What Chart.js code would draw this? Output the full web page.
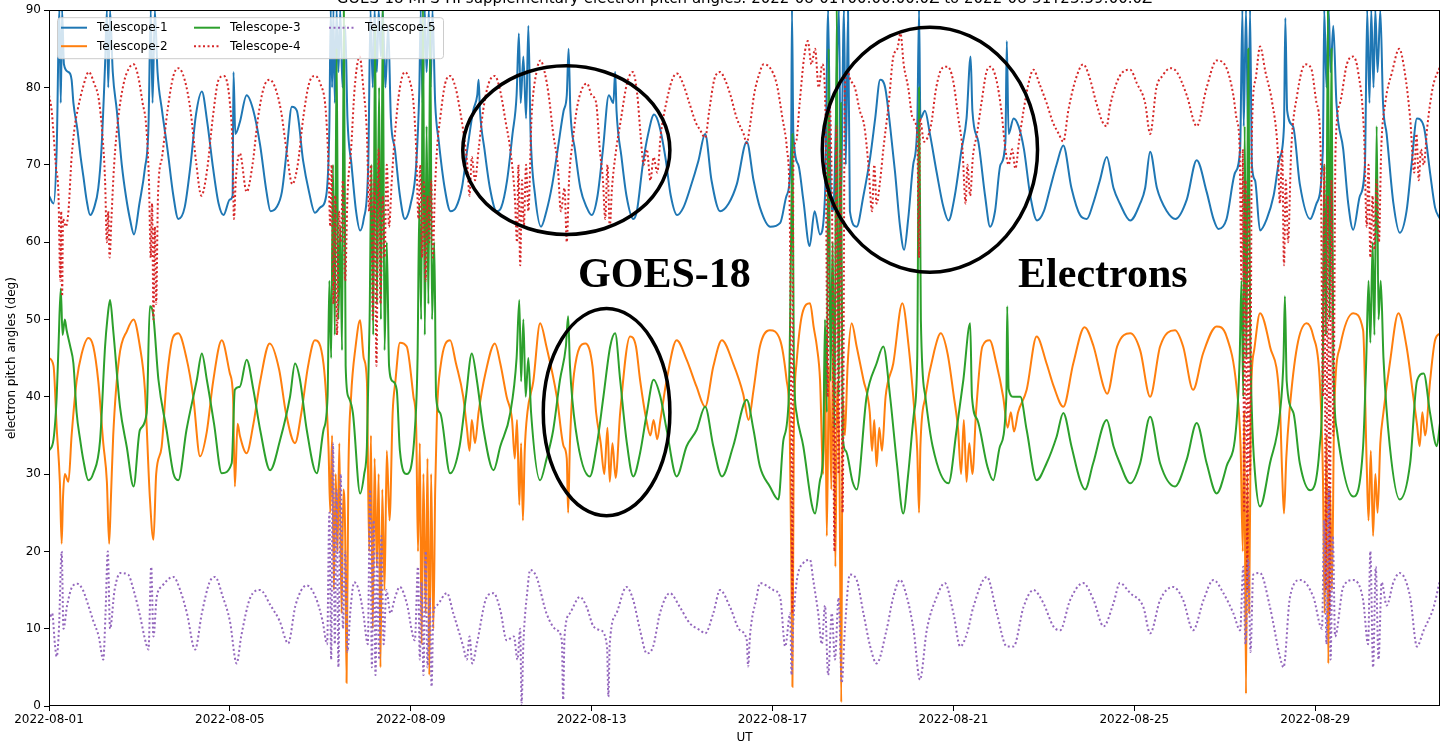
<!DOCTYPE html>
<html>
<head>
<meta charset="utf-8">
<title>GOES-18 MPS-HI supplementary electron pitch angles</title>
<script src="https://cdn.jsdelivr.net/npm/chart.js@4.4.1/dist/chart.umd.min.js"></script>
<style>
  html, body { margin: 0; padding: 0; background: #fff; }
  #wrap { position: relative; width: 1441px; height: 745px; overflow: hidden; }
</style>
</head>
<body>
<div id="wrap"><canvas id="chart" width="1441" height="745"></canvas></div>
<script>
// [days since 2022-08-01 00:00 UT, pitch angle (deg)]
const telescope1 = [
  [0.00,66],[0.10,65],[0.17,72],[0.23,90],[0.26,78],[0.29,90],[0.33,83],[0.43,82],[0.50,81],[0.54,78],[0.63,74.5],[0.70,71],[0.76,68.5],[0.83,65.5],[0.91,63.5],
  [1.00,64.5],[1.09,67],[1.16,72],[1.24,83],[1.28,90],[1.31,80],[1.35,90],[1.41,82],[1.50,77],[1.61,70],[1.70,66],[1.79,63],[1.88,61],
  [2.00,65],[2.12,69.5],[2.20,75],[2.25,90],[2.29,78],[2.34,90],[2.40,82],[2.50,77],[2.62,72],[2.75,66],[2.86,63],
  [3.00,64.5],[3.13,70],[3.25,76.5],[3.38,79.5],[3.50,75.5],[3.63,69.5],[3.75,65],[3.86,63.5],
  [4.00,65.5],[4.06,66],[4.08,82],[4.12,74],[4.22,75.5],[4.37,79],[4.52,77],[4.67,72.5],[4.81,66.5],[4.90,64],
  [5.03,64.5],[5.15,66.5],[5.26,72],[5.37,77.5],[5.48,77],[5.62,70.5],[5.75,66.5],[5.88,63.8],
  [6.00,64.5],[6.13,66],[6.20,75],[6.23,90],[6.26,80],[6.29,90],[6.32,78],[6.36,90],[6.40,82],[6.44,90],[6.49,80],[6.55,88],[6.60,76],[6.69,70],[6.79,64],[6.88,61.5],[6.96,63],
  [7.06,70],[7.11,90],[7.16,80],[7.20,90],[7.25,82],[7.29,90],[7.34,84],[7.38,90],[7.44,80],[7.50,88],[7.56,76],[7.65,72],[7.76,66],[7.87,63],
  [8.00,65],[8.12,70],[8.19,80],[8.22,90],[8.26,78],[8.31,90],[8.35,82],[8.40,90],[8.44,80],[8.48,90],[8.54,78],[8.62,73],[8.75,67],[8.88,64],
  [9.00,64.5],[9.13,67],[9.25,72],[9.38,77],[9.47,79],[9.50,81],[9.53,77],[9.63,72],[9.75,67],[9.90,64],
  [10.00,64.5],[10.13,68],[10.25,74],[10.34,79],[10.39,87],[10.43,78],[10.49,84],[10.55,76],[10.60,88],[10.65,74],[10.75,66],[10.88,62],
  [11.00,64],[11.13,67.5],[11.25,72],[11.38,77],[11.45,79],[11.49,85],[11.53,77],[11.63,72],[11.75,67],[11.89,64.5],
  [12.00,63.5],[12.13,66],[12.25,72],[12.38,79],[12.48,78],[12.52,82],[12.55,77],[12.66,71],[12.77,66],[12.92,63],
  [13.00,64],[13.13,70],[13.25,74],[13.38,76.5],[13.50,75],[13.63,71],[13.75,66],[13.89,63.5],
  [14.03,64.5],[14.18,67],[14.36,70.5],[14.51,74],[14.65,68],[14.84,64],
  [15.03,65],[15.21,67.5],[15.43,73],[15.58,68],[15.72,64.5],[15.95,62],
  [16.17,62.5],[16.31,66],[16.41,72],[16.43,90],[16.46,74],[16.57,70],[16.68,65.5],[16.82,59.5],[16.93,64],
  [17.05,61],[17.16,66],[17.23,90],[17.28,68],[17.34,64],[17.47,90],[17.51,66],[17.58,90],[17.62,70],[17.67,90],[17.71,64],[17.86,62],
  [18.01,66],[18.16,71],[18.27,76],[18.38,81],[18.49,80],[18.60,75],[18.71,69],[18.82,62],[18.91,59],
  [19.00,63],[19.11,70],[19.20,75],[19.24,90],[19.27,76],[19.37,77],[19.48,74],[19.63,69],[19.78,64.5],[19.89,62.8],
  [20.03,66],[20.18,72],[20.29,76],[20.38,84],[20.42,77],[20.55,73],[20.70,66],[20.81,62],[20.92,64],
  [21.04,70],[21.15,73],[21.18,86],[21.22,74],[21.33,76],[21.44,75],[21.56,72],[21.70,66],[21.85,62.8],
  [22.00,64],[22.14,67],[22.28,70],[22.43,72.5],[22.61,67],[22.80,63.5],[22.95,63],
  [23.09,65],[23.24,68],[23.39,71],[23.54,67],[23.68,65],[23.91,62.8],
  [24.13,65],[24.24,67],[24.35,71.7],[24.50,67],[24.72,64],[24.91,63],
  [25.16,65.5],[25.38,70.6],[25.60,66.5],[25.75,63],[25.86,61.7],
  [26.04,63],[26.23,69],[26.34,72],[26.39,90],[26.42,75],[26.47,90],[26.52,73],[26.56,90],[26.60,70],[26.67,68],[26.78,61.5],[26.93,63],
  [27.08,66],[27.22,71],[27.31,75],[27.34,89],[27.38,77],[27.51,75],[27.66,67.5],[27.89,63],
  [28.03,65],[28.17,72],[28.20,90],[28.25,80],[28.30,90],[28.34,82],[28.40,88],[28.47,78],[28.62,72],[28.73,65],[28.84,61.6],[28.99,66],
  [29.10,70],[29.15,90],[29.20,78],[29.24,90],[29.29,80],[29.33,90],[29.38,82],[29.44,90],[29.50,78],[29.58,74],[29.73,65],[29.87,61.2],
  [30.02,64],[30.13,70],[30.25,76],[30.40,75],[30.54,69],[30.65,64.5],[30.76,63]
];

const telescope2 = [
  [0.00,45],[0.10,44],[0.17,36],[0.24,29],[0.28,21],[0.31,27],[0.35,30],[0.43,29],[0.50,35],[0.61,42],[0.72,45.5],[0.87,47.6],[0.98,46.5],
  [1.09,42],[1.20,34],[1.28,29],[1.33,21],[1.37,27],[1.42,35],[1.55,45],[1.73,48.6],[1.87,50],
  [2.01,46.5],[2.12,41],[2.23,27],[2.31,21.5],[2.37,30],[2.49,33.5],[2.60,42],[2.75,47.8],[2.86,48.2],
  [3.04,45],[3.19,40],[3.34,32.3],[3.49,35.5],[3.63,42],[3.82,47.3],
  [4.00,43],[4.07,40],[4.11,28.4],[4.17,36.5],[4.22,35],[4.37,32.7],[4.52,36.5],[4.67,42],[4.88,46.9],
  [5.09,43.5],[5.24,37.9],[5.44,34],[5.58,37.9],[5.73,44],[5.88,47.3],
  [6.07,44.3],[6.18,33.6],[6.22,25],[6.26,35],[6.30,15],[6.34,30],[6.38,20],[6.42,34],[6.47,12],[6.51,28],[6.55,22],[6.58,3],[6.62,30],[6.68,40],[6.78,46.5],[6.88,49.9],[6.96,45],
  [7.03,42],[7.08,20],[7.12,35],[7.16,10],[7.20,32],[7.25,18],[7.29,30],[7.33,5],[7.37,28],[7.42,15],[7.47,33],[7.53,24],[7.60,38],[7.66,42],[7.76,47],[7.91,46.5],
  [8.06,40],[8.12,36],[8.16,20],[8.20,34],[8.24,8],[8.28,30],[8.33,12],[8.37,32],[8.41,4],[8.45,30],[8.50,10],[8.54,28],[8.58,38],[8.66,44],[8.87,47.3],
  [9.00,44.3],[9.16,40],[9.24,36],[9.30,33],[9.35,37],[9.42,34],[9.50,38],[9.65,43],[9.86,46.9],[9.98,44.3],
  [10.12,40],[10.24,37],[10.30,32],[10.35,37],[10.40,26],[10.44,34],[10.48,24],[10.52,33],[10.58,38],[10.71,42],[10.86,49.5],
  [11.00,46.5],[11.23,40],[11.38,33.6],[11.45,32],[11.48,25],[11.52,34],[11.61,43],[11.86,46.9],
  [12.02,43.9],[12.10,37.9],[12.20,34],[12.28,30],[12.35,36],[12.40,29],[12.46,34],[12.53,29.5],[12.63,37.9],[12.85,47.8],[12.98,46.5],
  [13.07,42.2],[13.21,37],[13.30,35],[13.37,37],[13.45,34.5],[13.52,37],[13.66,42.2],[13.88,47.3],
  [14.10,44.8],[14.32,41.3],[14.51,38.7],[14.69,43.9],[14.88,47.3],
  [15.13,44.3],[15.35,40.4],[15.47,37],[15.58,40.9],[15.72,46.5],[15.94,48.6],
  [16.17,47.3],[16.31,42.2],[16.38,36],[16.42,15],[16.44,2.5],[16.47,35],[16.53,44.3],[16.66,50.8],[16.83,52.1],[16.91,49],[16.98,46.5],
  [17.05,42.2],[17.12,30],[17.16,45],[17.20,22],[17.25,44],[17.30,28],[17.34,47],[17.39,18],[17.43,42],[17.48,30],[17.52,0.5],[17.55,40],[17.60,35],[17.66,44],[17.75,49.5],[17.86,46.5],
  [18.01,42.2],[18.15,38],[18.20,33],[18.25,37],[18.30,31],[18.36,36],[18.42,33],[18.50,40],[18.67,44.3],[18.87,52.1],
  [19.01,46.5],[19.14,37.9],[19.20,33],[19.24,25],[19.27,33.6],[19.38,40],[19.58,46],[19.72,48.2],[19.87,45.6],
  [20.01,40],[20.10,36],[20.17,30],[20.23,37],[20.29,29],[20.35,34],[20.42,30],[20.50,38],[20.64,46.5],[20.80,47.3],[20.95,44.3],
  [21.10,40],[21.20,36],[21.27,38],[21.34,35.5],[21.43,38],[21.62,40.9],[21.84,47.8],
  [22.06,44.3],[22.22,41.3],[22.43,38.7],[22.65,44.3],[22.90,49],
  [23.10,46.5],[23.32,41.3],[23.40,40.4],[23.62,46.5],[23.91,48.2],
  [24.13,46],[24.35,40],[24.57,46.5],[24.90,48.6],
  [25.08,46.5],[25.30,40.9],[25.52,45.6],[25.82,49.1],
  [26.04,47.8],[26.26,41.3],[26.35,33.6],[26.40,20],[26.43,38],[26.47,1.6],[26.50,30],[26.54,12],[26.58,40],[26.65,46],[26.78,50.8],
  [27.00,46.5],[27.22,38.7],[27.27,30],[27.31,24.9],[27.36,32],[27.43,38],[27.60,46.5],[27.81,49.5],[27.96,47.8],
  [28.10,42.2],[28.17,30],[28.21,12],[28.25,35],[28.29,5.5],[28.33,28],[28.37,15],[28.42,38],[28.55,46.5],[28.84,50.8],
  [29.06,48.6],[29.14,31],[29.18,24],[29.23,33],[29.28,22],[29.33,30],[29.38,25],[29.44,34],[29.51,38],[29.65,44.3],[29.84,50.8],
  [30.02,46.5],[30.17,40],[30.25,36.5],[30.31,33.6],[30.37,38],[30.43,35],[30.54,42],[30.65,47.3],[30.76,48.2]
];

const telescope3 = [
  [0.00,33],[0.10,34.5],[0.17,40],[0.21,46.5],[0.26,54],[0.30,48],[0.35,50],[0.39,48.6],[0.47,46.5],[0.54,44.3],[0.61,38],[0.69,34.4],[0.76,31.8],[0.87,29.2],[0.98,30.1],
  [1.13,34.4],[1.24,46.5],[1.29,50],[1.35,52.5],[1.42,48.6],[1.57,38.7],[1.72,33.5],[1.87,28.4],
  [2.01,35.7],[2.16,37.9],[2.23,51.7],[2.30,50.8],[2.42,42.2],[2.60,35.7],[2.75,30.1],[2.86,29.2],
  [3.04,35.7],[3.27,42.2],[3.38,45.6],[3.49,42.2],[3.65,36.5],[3.82,30.1],
  [4.04,31.4],[4.11,40.9],[4.22,41.3],[4.37,44.8],[4.52,40.9],[4.67,35.7],[4.89,30.5],
  [5.11,34.4],[5.33,40],[5.44,44.3],[5.55,42.2],[5.70,35.7],[5.92,30.1],
  [6.07,35.7],[6.16,40],[6.20,55],[6.24,45],[6.28,70],[6.32,48],[6.36,85],[6.40,50],[6.44,62],[6.48,46],[6.52,90],[6.56,44],[6.62,40],[6.72,37.9],[6.88,27.5],[6.97,30],
  [7.03,33.6],[7.09,50],[7.13,70],[7.17,48],[7.21,88],[7.25,52],[7.30,80],[7.34,50],[7.38,90],[7.42,46],[7.47,60],[7.52,44],[7.60,42],[7.69,40.9],[7.76,33],[7.91,30],
  [8.09,35.7],[8.15,45],[8.19,65],[8.23,50],[8.27,90],[8.31,48],[8.35,75],[8.39,52],[8.43,88],[8.47,50],[8.52,60],[8.56,40],[8.65,37.9],[8.87,30.1],
  [9.08,33.6],[9.22,40],[9.35,45.6],[9.46,42.2],[9.61,35.7],[9.83,30.5],[9.98,33.6],
  [10.20,37.9],[10.34,45],[10.40,52.5],[10.44,42],[10.49,50],[10.54,40],[10.60,45],[10.66,38],[10.86,29.2],
  [11.00,31.9],[11.15,35.7],[11.30,42.2],[11.43,46.5],[11.48,50.4],[11.52,44],[11.65,35.7],[11.96,29.7],
  [12.11,33.6],[12.26,40],[12.41,46.5],[12.52,48.2],[12.63,42.2],[12.77,34.4],[12.92,29.7],
  [13.07,32.7],[13.22,37.9],[13.37,42.2],[13.52,40],[13.66,35.7],[13.88,29.7],
  [14.10,33.6],[14.32,35.7],[14.51,38.7],[14.69,33.6],[14.88,29.7],
  [15.13,33.6],[15.43,39.6],[15.58,35.7],[15.72,31],[15.94,28.4],
  [16.13,26.7],[16.24,34.4],[16.36,40],[16.41,60],[16.44,74],[16.47,45],[16.53,37.9],[16.68,33.6],[16.87,26],[16.94,24.9],
  [17.05,29.2],[17.12,33],[17.16,50],[17.20,38],[17.24,85],[17.28,42],[17.33,60],[17.37,36],[17.42,90],[17.46,40],[17.51,78],[17.55,35],[17.62,33],[17.77,29],[17.86,28],
  [18.08,40],[18.30,44.3],[18.45,46.5],[18.60,40],[18.75,31.4],[18.89,24.9],
  [19.00,30],[19.13,38],[19.20,45],[19.24,80],[19.28,50],[19.38,40],[19.54,33.6],[19.89,28.8],
  [20.07,35.7],[20.22,42.2],[20.37,49.5],[20.41,40],[20.53,37],[20.75,31],[20.88,29.2],
  [21.03,33.6],[21.17,40],[21.19,51.7],[21.22,41],[21.33,40],[21.48,40],[21.62,35.7],[21.84,29.2],
  [22.06,31.4],[22.28,34.8],[22.43,37.9],[22.61,33.6],[22.80,29.2],[22.91,28],
  [23.09,31.4],[23.39,37],[23.54,33.6],[23.68,31.4],[23.91,28.8],
  [24.13,31.4],[24.35,37.4],[24.57,31.4],[24.90,28.4],
  [25.16,31.9],[25.38,36.6],[25.60,31.4],[25.82,27.5],
  [26.04,31],[26.26,36.6],[26.33,45],[26.37,55],[26.41,40],[26.44,75],[26.48,45],[26.52,85],[26.56,50],[26.60,38],[26.67,30],[26.78,25.8],
  [27.00,31.4],[27.22,37.9],[27.30,45],[27.33,53],[27.37,42],[27.52,37.9],[27.66,31.4],[27.89,27.9],
  [28.10,33.6],[28.17,45],[28.20,70],[28.24,48],[28.28,90],[28.32,50],[28.36,85],[28.40,45],[28.48,35.7],[28.84,27.1],
  [29.06,33.6],[29.13,45],[29.18,55],[29.22,47],[29.27,60],[29.31,48],[29.36,75],[29.40,50],[29.45,55],[29.51,45],[29.65,33.6],[29.87,26.7],
  [30.10,31.4],[30.25,42],[30.40,43],[30.54,37.9],[30.69,33.6],[30.76,36.6]
];

const telescope4 = [
  [0.00,79],[0.06,77],[0.10,74],[0.15,70],[0.21,66],[0.25,55],[0.27,64],[0.29,53],[0.31,63],[0.37,62],[0.43,64],[0.50,71],[0.57,75],[0.63,77],[0.75,80],[0.88,82],
  [1.00,80.5],[1.10,78.5],[1.18,74],[1.24,68],[1.28,60],[1.31,64],[1.34,58],[1.38,63],[1.44,70],[1.53,76],[1.65,80.5],[1.77,82.5],[1.87,83],[1.97,81.5],
  [2.07,78],[2.15,75],[2.21,68],[2.25,58],[2.28,65],[2.31,50],[2.34,62],[2.37,52],[2.41,66],[2.50,71],[2.62,77],[2.75,81.5],[2.86,82.5],
  [3.00,81],[3.13,77],[3.25,70.5],[3.37,66],[3.50,69.5],[3.62,76],[3.75,81],[3.87,81.5],
  [4.00,78],[4.06,72],[4.09,63],[4.13,68],[4.22,71.5],[4.37,66.5],[4.50,70],[4.62,76],[4.75,80],[4.88,81],
  [5.00,80],[5.13,77],[5.25,72],[5.38,67.5],[5.50,70],[5.62,76],[5.75,80.5],[5.88,81.5],
  [6.00,80.5],[6.12,77],[6.18,70],[6.22,62],[6.25,70],[6.29,52],[6.33,66],[6.37,48],[6.41,64],[6.45,60],[6.50,68],[6.55,55],[6.60,66],[6.68,72],[6.76,80],[6.87,84],[6.95,80],
  [7.03,74],[7.08,64],[7.12,70],[7.16,50],[7.20,68],[7.24,44],[7.29,72],[7.33,52],[7.38,66],[7.42,58],[7.47,70],[7.52,62],[7.58,68],[7.65,74],[7.76,80],[7.87,82],[7.97,81],
  [8.06,78],[8.12,72],[8.17,63],[8.21,70],[8.25,58],[8.29,68],[8.33,55],[8.37,66],[8.41,60],[8.45,68],[8.49,58],[8.53,66],[8.58,72],[8.65,76],[8.76,80.5],[8.87,81.5],[8.99,80],
  [9.09,77],[9.17,74],[9.25,70],[9.30,66],[9.35,71],[9.42,68],[9.50,72],[9.60,77],[9.72,80.5],[9.86,81.5],[9.98,79.5],
  [10.10,75.5],[10.20,72],[10.30,66],[10.35,60],[10.38,70],[10.42,57],[10.46,68],[10.50,62],[10.55,70],[10.60,64],[10.67,76],[10.78,82],[10.87,83.5],[10.96,82],
  [11.05,79],[11.15,74],[11.25,70],[11.32,64],[11.40,67],[11.45,60],[11.50,68],[11.58,73],[11.68,77.5],[11.80,80],[11.90,80.5],
  [12.00,79],[12.10,78],[12.18,72],[12.25,68],[12.30,63],[12.35,70],[12.40,62],[12.45,67],[12.52,71],[12.65,76],[12.78,80.5],[12.91,82],
  [13.01,79],[13.08,74],[13.15,70],[13.22,72],[13.30,68],[13.37,71],[13.45,69],[13.53,74],[13.65,78],[13.78,81],[13.89,81.8],
  [14.02,80.5],[14.16,78],[14.30,75.5],[14.40,74.5],[14.51,73.5],[14.60,77],[14.71,81],[14.84,82],[14.95,81],
  [15.07,79],[15.21,76],[15.36,74],[15.43,72.8],[15.50,75],[15.59,79],[15.72,82],[15.80,83],[15.95,82.5],
  [16.09,80.5],[16.22,76],[16.32,72],[16.38,64],[16.42,30],[16.44,12],[16.46,70],[16.52,73],[16.60,78],[16.70,84],[16.78,86],[16.86,83],[16.94,85],
  [17.02,80],[17.10,83],[17.17,77],[17.22,40],[17.26,78],[17.32,62],[17.37,20],[17.41,75],[17.46,30],[17.50,72],[17.55,25],[17.60,80],[17.66,82],[17.72,81],[17.82,80],[17.93,77],
  [18.03,75],[18.12,70],[18.20,64],[18.25,70],[18.30,65],[18.38,68],[18.45,72],[18.57,78],[18.67,84],[18.76,85],[18.83,87],[18.90,83],
  [19.00,80],[19.10,76],[19.20,74],[19.24,58],[19.26,76],[19.35,73],[19.50,75],[19.62,80],[19.75,82.5],[19.87,82.7],[19.99,81],
  [20.11,76],[20.20,72],[20.27,65],[20.31,70],[20.37,66],[20.43,71],[20.52,74],[20.62,78],[20.73,82],[20.82,82.7],[20.95,81],
  [21.06,77],[21.15,72],[21.22,70],[21.30,72],[21.37,69.5],[21.45,73],[21.55,77],[21.68,81],[21.77,82.3],[21.90,80.5],
  [22.06,78],[22.20,75.5],[22.33,74],[22.43,73],[22.54,77],[22.70,81],[22.87,83],
  [23.00,81.5],[23.16,78],[23.30,75.5],[23.39,75],[23.46,77.5],[23.68,81.5],[23.91,82.3],
  [24.06,80.5],[24.24,78],[24.35,74],[24.49,80],[24.62,81.5],[24.80,82.5],[24.94,82],
  [25.16,79],[25.38,75],[25.60,80],[25.82,83.5],
  [26.04,82.5],[26.19,79],[26.26,76],[26.33,72],[26.37,55],[26.40,72],[26.43,25],[26.46,68],[26.50,15],[26.53,66],[26.56,30],[26.60,74],[26.68,81],[26.78,85.3],[26.90,82],
  [27.05,78],[27.17,72],[27.22,65],[27.27,72],[27.31,57],[27.35,68],[27.40,60],[27.47,72],[27.60,79],[27.78,83],[27.91,82.5],
  [28.03,78],[28.12,72],[28.17,40],[28.20,70],[28.24,15],[28.28,66],[28.32,12],[28.36,68],[28.40,35],[28.45,72],[28.55,78],[28.70,83],[28.84,84],[28.95,82],
  [29.08,74],[29.14,62],[29.18,70],[29.22,58],[29.27,66],[29.31,59],[29.36,68],[29.41,60],[29.46,72],[29.55,78],[29.70,82],[29.86,85],[29.98,82],
  [30.10,76],[30.19,69],[30.24,74],[30.29,68],[30.34,72],[30.40,70],[30.48,75],[30.60,80],[30.76,82.7]
];

const telescope5 = [
  [0.00,11],[0.07,12],[0.13,8],[0.17,6.4],[0.22,10],[0.28,20],[0.32,10],[0.40,13],[0.52,15.5],[0.63,15.8],[0.75,15],[0.87,13],[0.98,11],
  [1.10,9],[1.20,6],[1.25,12],[1.30,20],[1.35,10],[1.45,15],[1.58,17.2],[1.75,17],[1.87,15],
  [2.00,12],[2.15,8],[2.20,7.3],[2.26,18],[2.31,9],[2.38,14],[2.50,15.5],[2.75,16.7],[2.90,15],
  [3.05,12],[3.23,7.3],[3.38,12],[3.55,16],[3.67,16.7],[3.85,14],
  [4.00,11],[4.15,5.5],[4.25,9],[4.45,14],[4.67,15],[4.90,13],
  [5.10,11],[5.29,8.1],[5.45,13],[5.70,15.6],[5.90,14],
  [6.05,11],[6.15,8],[6.20,25],[6.24,6],[6.28,34],[6.32,8],[6.36,28],[6.40,5],[6.45,30],[6.50,10],[6.55,20],[6.60,7],[6.66,12],[6.75,16],[6.85,15],[6.95,12],
  [7.05,8],[7.10,28],[7.14,5],[7.18,24],[7.22,4],[7.26,20],[7.30,6],[7.35,22],[7.40,8],[7.46,15],[7.55,12],[7.65,14],[7.76,15.4],[7.91,13.3],
  [8.09,8.5],[8.16,18],[8.20,6],[8.24,16],[8.28,4],[8.33,20],[8.37,5],[8.42,14],[8.46,2.5],[8.50,12],[8.57,13],[8.80,14.6],[8.94,12],
  [9.16,7.7],[9.24,6],[9.30,9],[9.36,5.5],[9.46,8],[9.68,14.1],[9.83,14.6],[9.98,12.4],
  [10.12,8.5],[10.28,9],[10.36,6],[10.42,10],[10.45,0.3],[10.49,8],[10.58,15],[10.64,17.6],[10.78,16.7],
  [11.00,12],[11.23,9.8],[11.34,8.5],[11.37,0.8],[11.40,9],[11.52,12],[11.74,14.1],[11.89,12.8],
  [12.04,10.3],[12.19,9.8],[12.34,7.7],[12.37,1.2],[12.40,8],[12.55,12],[12.77,15.4],[12.92,13.7],
  [13.07,9.8],[13.22,6.8],[13.36,7.7],[13.51,12],[13.73,14.6],[13.95,12.8],
  [14.17,10.7],[14.40,9.8],[14.51,9.4],[14.69,12],[14.84,15],
  [15.06,12.8],[15.28,9.8],[15.43,8.5],[15.46,5.1],[15.50,9],[15.65,14.1],[15.72,15.9],
  [16.02,15],[16.17,14],[16.28,7.7],[16.39,12],[16.42,4],[16.46,11],[16.68,18.5],[16.83,18.9],[16.90,16.3],
  [17.01,12],[17.09,8],[17.16,13],[17.23,4],[17.31,12],[17.38,6],[17.46,14],[17.53,3],[17.60,10],[17.71,17],[17.86,16.3],
  [18.01,12],[18.16,7.7],[18.30,5.5],[18.52,9.8],[18.67,14.1],[18.82,16.3],[18.97,14.1],
  [19.12,9.8],[19.26,3.4],[19.41,9.8],[19.63,14.1],[19.81,15.9],
  [20.00,12],[20.15,7.7],[20.30,9.4],[20.44,12.8],[20.74,16.7],[20.96,12],
  [21.18,7.7],[21.33,7.7],[21.55,12.8],[21.77,15],[21.99,13.3],
  [22.21,10.3],[22.36,9.8],[22.58,13.7],[22.87,15.9],
  [23.10,13.7],[23.32,10.3],[23.54,13.3],[23.68,15.9],[23.91,14.6],
  [24.20,12.8],[24.35,9.4],[24.57,13.7],[24.86,15.4],
  [25.08,13.7],[25.30,9.8],[25.53,13.7],[25.75,16.3],[25.97,14.6],
  [26.19,12],[26.34,9.8],[26.41,18],[26.46,8],[26.52,19],[26.57,7],[26.63,17],[26.78,17.2],
  [27.00,12.8],[27.22,6.4],[27.30,5],[27.44,14],[27.67,16.3],[27.96,14.1],
  [28.15,10],[28.20,24],[28.25,8],[28.30,28],[28.34,6],[28.39,22],[28.44,9],[28.62,15.4],[28.84,16.3],
  [29.06,13.7],[29.17,8],[29.22,20],[29.28,5],[29.34,18],[29.40,6],[29.47,16],[29.58,13],[29.73,16],[29.87,17.2],
  [30.10,14.1],[30.25,7.7],[30.40,9.8],[30.62,12.8],[30.76,16.3]
];

const seriesNames = ["Telescope-1", "Telescope-2", "Telescope-3", "Telescope-4", "Telescope-5"];
const xTickDays = [0, 4, 8, 12, 16, 20, 24, 28];
const xTickLabels = ["2022-08-01", "2022-08-05", "2022-08-09", "2022-08-13", "2022-08-17", "2022-08-21", "2022-08-25", "2022-08-29"];
const TITLE = "GOES-18 MPS-HI supplementary electron pitch angles: 2022-08-01T00:00:00.0Z to 2022-08-31T23:59:00.0Z";

const X_MAX = 30.76;
const FONT = "'DejaVu Sans', Verdana, sans-serif";

const SERIES_STYLE = [
  { color: "#1f77b4", dash: [], width: 2 },
  { color: "#ff7f0e", dash: [], width: 2 },
  { color: "#2ca02c", dash: [], width: 2 },
  { color: "#d62728", dash: [2, 2.5], width: 2 },
  { color: "#9467bd", dash: [2, 2.5], width: 2 },
];

// hand-drawn marks on the figure, in data units
const ELLIPSES = [
  { day: 11.44, deg: 71.9, rDays: 2.29, rDeg: 10.9 },
  { day: 19.48, deg: 71.95, rDays: 2.38, rDeg: 15.85 },
  { day: 12.33, deg: 38.0, rDays: 1.40, rDeg: 13.4 },
];
const NOTES = [
  { text: "GOES-18", day: 11.70, deg: 54.2 },
  { text: "Electrons", day: 21.43, deg: 54.2 },
];

const cutTitlePlugin = {
  id: "cutTitle",
  afterDraw(chart) {
    const ctx = chart.ctx;
    const { left, right } = chart.chartArea;
    ctx.save();
    ctx.fillStyle = "#000";
    ctx.font = `15px ${FONT}`;
    ctx.textAlign = "center";
    ctx.textBaseline = "alphabetic";
    ctx.fillText(TITLE, (left + right) / 2, 2.5);
    ctx.restore();
  },
};

const sketchPlugin = {
  id: "sketch",
  afterDatasetsDraw(chart) {
    const ctx = chart.ctx;
    const xs = chart.scales.x;
    const ys = chart.scales.y;
    ctx.save();
    ctx.strokeStyle = "#000";
    ctx.lineWidth = 3.5;
    ELLIPSES.forEach((e) => {
      const cx = xs.getPixelForValue(e.day);
      const cy = ys.getPixelForValue(e.deg);
      const rx = Math.abs(xs.getPixelForValue(e.day + e.rDays) - cx);
      const ry = Math.abs(ys.getPixelForValue(e.deg + e.rDeg) - cy);
      ctx.beginPath();
      ctx.ellipse(cx, cy, rx, ry, 0, 0, Math.PI * 2);
      ctx.stroke();
    });
    ctx.fillStyle = "#000";
    ctx.font = "bold 42px 'Liberation Serif', 'Times New Roman', serif";
    ctx.textAlign = "left";
    ctx.textBaseline = "alphabetic";
    NOTES.forEach((n) => {
      ctx.fillText(n.text, xs.getPixelForValue(n.day), ys.getPixelForValue(n.deg));
    });
    ctx.restore();
  },
};

// matplotlib-style legend: 3 columns, filled column by column
const legendPlugin = {
  id: "mplLegend",
  afterDatasetsDraw(chart) {
    const ctx = chart.ctx;
    const { left, top } = chart.chartArea;
    const bx = left + 8;
    const by = top + 7;
    const bw = 386;
    const bh = 41;
    ctx.save();
    ctx.beginPath();
    ctx.roundRect(bx + 0.5, by + 0.5, bw, bh, 3);
    ctx.fillStyle = "rgba(255, 255, 255, 0.8)";
    ctx.fill();
    ctx.strokeStyle = "#cccccc";
    ctx.lineWidth = 1;
    ctx.stroke();

    const colX = [12, 145, 280];
    const rowY = [17.5, 36];
    ctx.font = `12px ${FONT}`;
    ctx.textBaseline = "middle";
    ctx.textAlign = "left";
    chart.data.datasets.forEach((ds, i) => {
      const col = Math.floor(i / 2);
      const row = i % 2;
      const x = left + colX[col];
      const y = top + rowY[row];
      ctx.beginPath();
      ctx.setLineDash(ds.borderDash || []);
      ctx.strokeStyle = ds.borderColor;
      ctx.lineWidth = ds.borderWidth;
      ctx.moveTo(x, y);
      ctx.lineTo(x + 26, y);
      ctx.stroke();
      ctx.setLineDash([]);
      ctx.fillStyle = "#000";
      ctx.fillText(ds.label, x + 36, y + 0.5);
    });
    ctx.restore();
  },
};

const framePlugin = {
  id: "frame",
  afterDraw(chart) {
    const { left, top, right, bottom } = chart.chartArea;
    const ctx = chart.ctx;
    ctx.save();
    ctx.strokeStyle = "#000";
    ctx.lineWidth = 1;
    ctx.strokeRect(Math.round(left) + 0.5, Math.round(top) + 0.5, Math.round(right - left) - 1, Math.round(bottom - top) - 1);
    ctx.restore();
  },
};

const allSeries = [telescope1, telescope2, telescope3, telescope4, telescope5];

const datasets = allSeries.map((series, i) => ({
  label: seriesNames[i],
  data: series.map(([x, y]) => ({ x, y })),
  borderColor: SERIES_STYLE[i].color,
  backgroundColor: SERIES_STYLE[i].color,
  borderDash: SERIES_STYLE[i].dash,
  borderWidth: SERIES_STYLE[i].width,
  borderCapStyle: "butt",
  pointRadius: 0,
  fill: false,
  cubicInterpolationMode: "monotone",
  order: allSeries.length - i,
}));

Chart.defaults.font.family = FONT;
Chart.defaults.font.size = 12;
Chart.defaults.color = "#000";

new Chart(document.getElementById("chart"), {
  type: "line",
  data: { datasets },
  plugins: [sketchPlugin, legendPlugin, framePlugin, cutTitlePlugin],
  options: {
    responsive: false,
    animation: false,
    parsing: false,
    layout: { padding: { top: 10, right: 1, bottom: 0, left: 0 } },
    plugins: {
      legend: { display: false },
      tooltip: { enabled: false },
      title: { display: false },
    },
    scales: {
      x: {
        type: "linear",
        min: 0,
        max: X_MAX,
        afterBuildTicks(scale) {
          scale.ticks = xTickDays.map((value) => ({ value }));
        },
        afterFit(scale) {
          scale.height = 39;
        },
        ticks: {
          autoSkip: false,
          maxRotation: 0,
          padding: 2,
          color: "#000",
          callback: (value, index) => xTickLabels[index],
        },
        grid: { drawOnChartArea: false, drawTicks: true, tickLength: 5, color: "#000" },
        border: { display: false },
        title: { display: true, text: "UT", color: "#000", padding: { top: 0, bottom: 0 } },
      },
      y: {
        type: "linear",
        min: 0,
        max: 90,
        afterFit(scale) {
          scale.width = 49;
        },
        ticks: { stepSize: 10, padding: 3, color: "#000" },
        grid: { drawOnChartArea: false, drawTicks: true, tickLength: 5, color: "#000" },
        border: { display: false },
        title: {
          display: true,
          text: "electron pitch angles (deg)",
          color: "#000",
          padding: { top: 5, bottom: 0 },
        },
      },
    },
  },
});
</script>
</body>
</html>
